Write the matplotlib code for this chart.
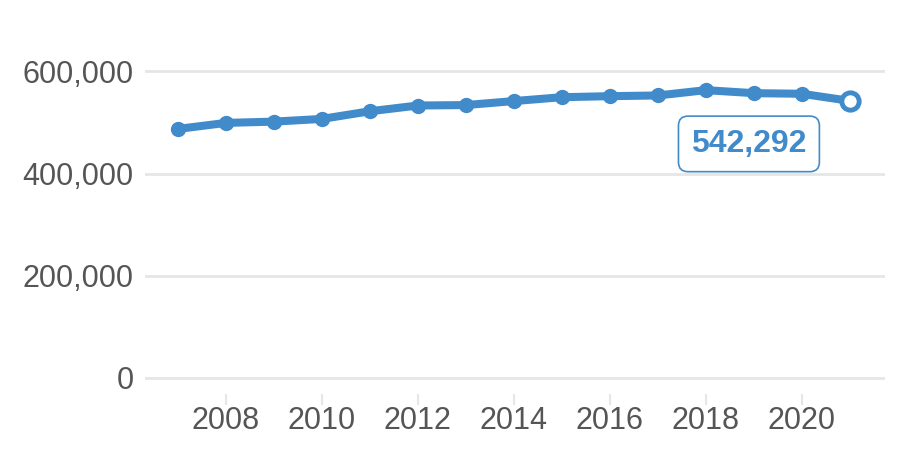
import matplotlib.pyplot as plt
import matplotlib
from matplotlib import ticker

matplotlib.rcParams['font.family'] = ['Liberation Sans', 'DejaVu Sans']

years = [2007, 2008, 2009, 2010, 2011, 2012, 2013, 2014, 2015, 2016, 2017, 2018, 2019, 2020, 2021]
values = [487300, 499100, 501600, 506900, 521900, 533100, 534000, 541800,
          549400, 551400, 552800, 563200, 557300, 556100, 542292]
y_ticks = [0, 200000, 400000, 600000]
x_ticks = [2008, 2010, 2012, 2014, 2016, 2018, 2020]

blue = '#428bca'
grey_text = '#555555'
grid_col = '#e6e6e6'

fig = plt.figure(figsize=(9, 4.5), dpi=100)
ax = fig.add_axes([0.161, 0.125, 0.822, 0.83])

ax.plot(years, values, color=blue, linewidth=5.8, solid_capstyle='round',
        solid_joinstyle='round', zorder=3)
ax.plot(years[:-1], values[:-1], 'o', color=blue, markersize=10, zorder=4)
ax.plot(years[-1], values[-1], 'o', markerfacecolor='white', markeredgecolor=blue,
        markeredgewidth=3.5, markersize=12.5, zorder=5)

ax.annotate(f'{values[-1]:,}', xy=(years[-1], values[-1]), xytext=(2018.9, 458000),
            ha='center', va='center', fontsize=23, fontweight='bold', color=blue,
            bbox=dict(boxstyle='round,pad=0.4,rounding_size=0.3', facecolor='white',
                      edgecolor=blue, linewidth=1.2), zorder=6)

ax.set_xlim(2006.31, 2021.73)
ax.set_ylim(-31000, 700000)
ax.set_yticks(y_ticks)
ax.yaxis.set_major_formatter(ticker.FuncFormatter(lambda v, p: f'{int(v):,}'))
ax.set_xticks(x_ticks)
ax.grid(axis='y', color=grid_col, linewidth=2)
ax.set_axisbelow(True)
for s in ax.spines.values():
    s.set_visible(False)
ax.tick_params(axis='y', length=0, pad=8, labelsize=22, labelcolor=grey_text)
ax.tick_params(axis='x', length=8, width=1.5, color=grid_col, pad=1,
               labelsize=22, labelcolor=grey_text, direction='out')

fig.savefig('out.png', dpi=100)
